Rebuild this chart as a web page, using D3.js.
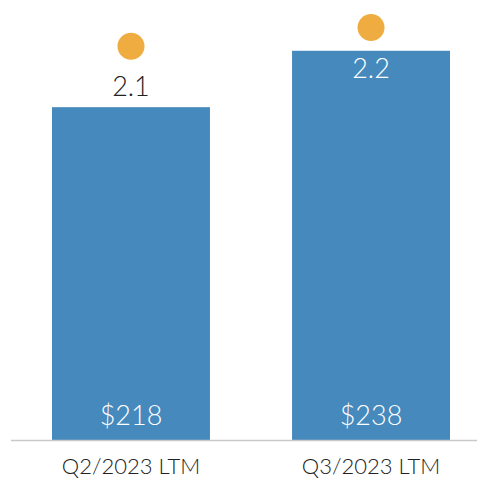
<!DOCTYPE html>
<html>
  <head>
    <meta charset="utf-8" />
    <style>
      body { margin: 0; background: #fff; }
      text { font-family: "Century Gothic", "Lato", sans-serif; font-weight: 300; }
    </style>
  </head>
  <body>
    <svg width="477" height="480"></svg>
    <script src="https://d3js.org/d3.v7.min.js"></script>
    <script>
      var categories = ["Q2/2023 LTM", "Q3/2023 LTM"];
      var barValues = [218, 238];
      var barLabels = ["$218", "$238"];
      var dotValues = [2.1, 2.2];
      var dotLabels = ["2.1", "2.2"];

      var svg = d3.select("svg");
      var baseY = 440;

      var x = d3.scaleBand()
        .domain(categories)
        .range([10, 492])
        .paddingInner(0.342)
        .paddingOuter(0.175);

      // primary axis does not start at zero
      var y = d3.scaleLinear().domain([100, 256]).range([baseY, 0]);
      var y2 = d3.scaleLinear().domain([0, 2.347]).range([baseY, 0]);

      svg.append("g")
        .selectAll("rect")
        .data(categories)
        .enter()
        .append("rect")
        .attr("x", d => x(d))
        .attr("width", x.bandwidth())
        .attr("y", (d, i) => y(barValues[i]))
        .attr("height", (d, i) => baseY - y(barValues[i]))
        .attr("fill", "#4689bd");

      svg.append("line")
        .attr("x1", 11).attr("x2", 477)
        .attr("y1", baseY + 0.5).attr("y2", baseY + 0.5)
        .attr("stroke", "#c9c9c9")
        .attr("stroke-width", 1.5);

      svg.append("g")
        .selectAll("text")
        .data(categories)
        .enter()
        .append("text")
        .attr("x", d => x(d) + x.bandwidth() / 2)
        .attr("y", baseY - 15)
        .attr("text-anchor", "middle")
        .attr("fill", "#fff")
        .attr("font-size", 27)
        .text((d, i) => barLabels[i]);

      var ax = svg.append("g")
        .attr("transform", "translate(0," + baseY + ")")
        .call(d3.axisBottom(x).tickSize(0).tickPadding(18));
      ax.select(".domain").remove();
      ax.selectAll("text")
        .attr("font-size", 22)
        .attr("font-family", "'Century Gothic', Lato, sans-serif")
        .attr("font-weight", 300)
        .attr("fill", "#222");

      svg.append("g")
        .selectAll("circle")
        .data(categories)
        .enter()
        .append("circle")
        .attr("cx", d => x(d) + x.bandwidth() / 2)
        .attr("cy", (d, i) => y2(dotValues[i]))
        .attr("r", 13.5)
        .attr("fill", "#efad41");

      svg.append("g")
        .selectAll("text")
        .data(categories)
        .enter()
        .append("text")
        .attr("x", d => x(d) + x.bandwidth() / 2)
        .attr("y", (d, i) => y2(dotValues[i]) + 50)
        .attr("text-anchor", "middle")
        .attr("font-size", 27)
        .attr("fill", (d, i) => y2(dotValues[i]) + 30 > y(barValues[i]) ? "#fff" : "#222")
        .text((d, i) => dotLabels[i]);
    </script>
  </body>
</html>
